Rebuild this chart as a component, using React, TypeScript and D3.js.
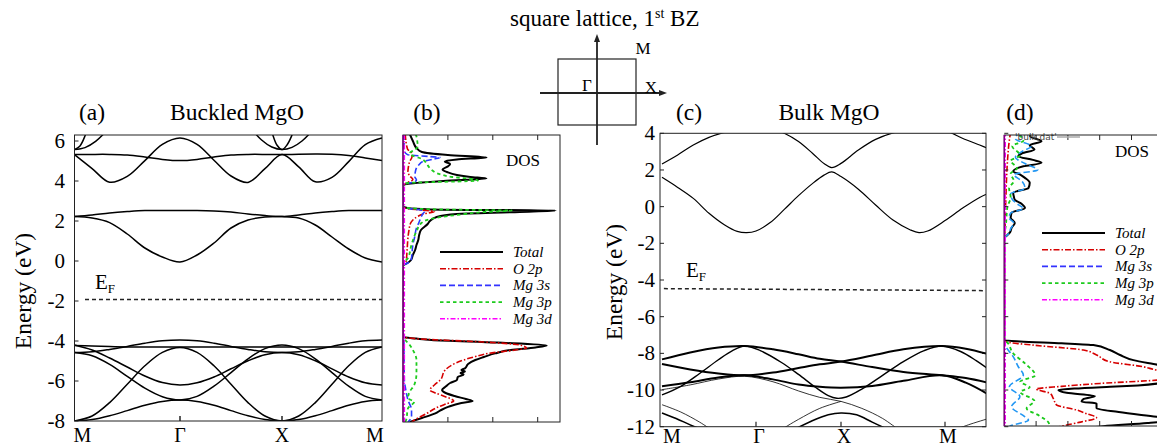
import * as d3 from 'd3';

type Pt = [number, number];

const FONT = '"Liberation Serif", "Times New Roman", serif';

// ---- high symmetry path ----
const symLabels = ['M', 'Γ', 'X', 'M'];
const symK = [0, 1, 2, 3];
const yTicksA = [6, 4, 2, 0, -2, -4, -6, -8];
const yTicksC = [4, 2, 0, -2, -4, -6, -8, -10, -12];

// ---- panel (a) Buckled MgO bands, sampled on kA ----
const kA = [0, 0.167, 0.333, 0.5, 0.667, 0.833, 1, 1.167, 1.333, 1.5, 1.667, 1.833, 2, 2.167, 2.333, 2.5, 2.667, 2.833, 3];
const bandA1 = [2.22, 2.15, 1.92, 1.35, 0.65, 0.2, -0.05, 0.3, 0.9, 1.65, 2.05, 2.2, 2.22, 2.15, 1.8, 1.2, 0.6, 0.15, -0.05];
const bandA2 = [2.22, 2.3, 2.4, 2.47, 2.52, 2.52, 2.52, 2.52, 2.5, 2.45, 2.35, 2.27, 2.22, 2.3, 2.4, 2.47, 2.52, 2.52, 2.52];
const bandA3 = [5.32, 5.33, 5.33, 5.3, 5.2, 5.08, 5.02, 5.08, 5.2, 5.3, 5.33, 5.33, 5.32, 5.34, 5.35, 5.34, 5.28, 5.15, 5.02];
const bandA4 = [5.32, 4.62, 3.94, 4.23, 5.02, 5.83, 6.15, 5.83, 5.04, 4.25, 3.93, 4.62, 5.32, 4.71, 3.96, 4.18, 4.97, 5.82, 6.15];
const bandA5 = [-4.58, -4.54, -4.42, -4.27, -4.11, -3.99, -3.95, -3.99, -4.11, -4.27, -4.42, -4.54, -4.58, -4.54, -4.42, -4.27, -4.11, -3.99, -3.95];
const bandA6 = [-4.22, -4.25, -4.28, -4.3, -4.3, -4.3, -4.3, -4.3, -4.3, -4.3, -4.3, -4.3, -4.3, -4.3, -4.3, -4.3, -4.3, -4.3, -4.3];
const bandA7 = [-8, -7.75, -7.08, -6.16, -5.24, -4.57, -4.32, -4.57, -5.24, -6.16, -7.08, -7.75, -8, -7.75, -7.08, -6.16, -5.24, -4.57, -4.3];
const bandA8 = [-4.2, -4.45, -4.85, -5.3, -5.75, -6.08, -6.2, -6.09, -5.8, -5.39, -4.99, -4.69, -4.58, -4.69, -4.99, -5.39, -5.8, -6.09, -6.2];
const bandA9 = [-4.58, -4.74, -5.17, -5.77, -6.36, -6.79, -6.95, -6.77, -6.26, -5.58, -4.89, -4.38, -4.2, -4.38, -4.89, -5.58, -6.26, -6.77, -6.95];
const bandA10 = [-8, -7.93, -7.74, -7.48, -7.21, -7.02, -6.95, -7.02, -7.21, -7.48, -7.74, -7.93, -8, -7.93, -7.74, -7.48, -7.21, -7.02, -6.95];
// short bands near the top edge, [k, E]
const bandA11: Pt[] = [[0, 5.57], [0.05, 5.74], [0.1, 6.26], [0.15, 7.1]];
const bandA12: Pt[] = [[0, 5.57], [0.1, 5.67], [0.2, 5.98], [0.3, 6.49]];
const bandA13: Pt[] = [[1.85, 7.2], [1.9, 6.45], [1.95, 5.8], [2, 5.57], [2.05, 5.8], [2.1, 6.3], [2.15, 7.0]];
const bandA14: Pt[] = [[1.7, 6.6], [1.8, 6.05], [1.9, 5.7], [2, 5.57], [2.1, 5.68], [2.2, 6.0], [2.3, 6.5]];
const efA = -1.93;

// ---- panel (c) Bulk MgO bands, [k, E] ----
const bandC1: Pt[] = [[0, 1.6], [0.167, 1.05], [0.333, 0.45], [0.5, -0.36], [0.667, -1.0], [0.8, -1.35], [0.9, -1.42], [1, -1.33], [1.167, -0.87], [1.333, -0.15], [1.5, 0.6], [1.667, 1.27], [1.8, 1.72], [1.89, 1.9], [2, 1.64], [2.167, 0.95], [2.333, 0.09], [2.5, -0.73], [2.667, -1.27], [2.75, -1.42], [2.833, -1.33], [3, -0.76], [3.167, -0.09], [3.333, 0.5], [3.45, 0.8]];
const bandC2: Pt[] = [[0, 2.33], [0.167, 2.82], [0.333, 3.36], [0.5, 3.78], [0.667, 4.05], [0.85, 4.3], [1, 4.35], [1.15, 4.3], [1.333, 4.0], [1.5, 3.55], [1.667, 2.9], [1.8, 2.35], [1.89, 2.13], [2, 2.36], [2.167, 3.09], [2.333, 3.67], [2.5, 4.02], [2.75, 4.3], [3, 4.15], [3.167, 3.73], [3.333, 3.36], [3.45, 3.1]];
const bandC3: Pt[] = [[0, -8.33], [0.3, -7.95], [0.6, -7.68], [0.88, -7.6], [1.2, -7.78], [1.5, -8.05], [1.75, -8.3], [2, -8.45], [2.3, -8.75], [2.6, -9.02], [2.97, -9.2], [3.2, -9.35], [3.45, -9.65]];
const bandC4: Pt[] = [[0, -8.58], [0.3, -8.88], [0.6, -9.1], [0.88, -9.2], [1.2, -9.05], [1.5, -8.8], [1.75, -8.6], [2, -8.45], [2.3, -8.12], [2.6, -7.78], [2.97, -7.6], [3.2, -7.75], [3.45, -8.1]];
const bandC5: Pt[] = [[0, -9.8], [0.3, -9.58], [0.6, -9.32], [0.88, -9.2], [1.2, -9.42], [1.5, -9.7], [1.75, -9.82], [2, -9.87], [2.3, -9.78], [2.6, -9.5], [2.97, -9.2], [3.2, -9.6], [3.45, -10.35]];
const bandC6: Pt[] = [[0, -10.27], [0.2, -9.8], [0.4, -9.1], [0.6, -8.35], [0.75, -7.85], [0.88, -7.6], [1.05, -7.85], [1.3, -8.5], [1.5, -9.15], [1.7, -9.85], [1.85, -10.3], [1.95, -10.45], [2.05, -10.38], [2.2, -9.95], [2.4, -9.2], [2.6, -8.45], [2.8, -7.85], [2.97, -7.6], [3.15, -7.9], [3.3, -8.4], [3.45, -9.0]];
const bandC7: Pt[] = [[0, -9.98], [0.3, -9.72], [0.6, -9.4], [0.88, -9.25], [1.2, -9.55], [1.5, -10.05], [1.75, -10.4], [2, -10.62], [2.2, -11.0], [2.4, -11.55], [2.55, -12.15]];
const bandC8: Pt[] = [[1.3, -12.15], [1.5, -11.6], [1.75, -11.0], [2, -10.62]];
const bandC9: Pt[] = [[1.45, -12.15], [1.65, -11.7], [1.85, -11.35], [2, -11.25], [2.15, -11.35], [2.3, -11.75], [2.45, -12.15]];
const bandC10: Pt[] = [[0, -10.8], [0.2, -11.2], [0.4, -11.75], [0.52, -12.15]];
const bandC11: Pt[] = [[0, -11.25], [0.15, -11.55], [0.3, -11.9], [0.42, -12.15]];
const bandC12: Pt[] = [[3.1, -12.15], [3.25, -11.85], [3.45, -11.5]];
const efC: Pt[] = [[0.02, -4.47], [3.37, -4.58]];

// ---- DOS, [E, states] ----
const dosTotalB: Pt[] = [[6.35, 0.15], [6.0, 0.22], [5.65, 0.3], [5.45, 0.42], [5.3, 1.0], [5.18, 1.86], [5.08, 1.2], [4.98, 0.93], [4.85, 1.05], [4.73, 1.0], [4.57, 0.88], [4.45, 0.98], [4.3, 1.2], [4.2, 1.5], [4.12, 1.86], [4.0, 0.9], [3.85, 0.08], [3.78, 0], [2.72, 0], [2.65, 0.1], [2.58, 0.6], [2.52, 3.4], [2.45, 2.6], [2.35, 1.2], [2.2, 0.75], [2.0, 0.6], [1.85, 0.55], [1.55, 0.4], [1.3, 0.36], [1.05, 0.34], [0.8, 0.3], [0.55, 0.27], [0.3, 0.22], [0.05, 0.18], [-0.15, 0.06], [-0.22, 0], [-3.8, 0], [-3.88, 0.3], [-3.95, 0.63], [-4.08, 2.1], [-4.22, 3.2], [-4.32, 2.95], [-4.45, 2.4], [-4.62, 2.05], [-4.8, 1.8], [-4.95, 1.61], [-5.15, 1.45], [-5.37, 1.38], [-5.45, 1.3], [-5.52, 1.38], [-5.6, 1.28], [-5.68, 1.35], [-5.8, 1.22], [-5.95, 1.2], [-6.1, 1.05], [-6.28, 0.95], [-6.45, 0.87], [-6.6, 0.95], [-6.75, 1.15], [-6.9, 1.4], [-7.0, 1.55], [-7.1, 1.3], [-7.28, 1.02], [-7.45, 0.85], [-7.62, 0.72], [-7.85, 0.42], [-8.05, 0.15]];
const dosO2pB: Pt[] = [[6.35, 0.05], [5.6, 0.1], [5.4, 0.19], [5.2, 0.2], [4.98, 0.15], [4.7, 0.12], [4.48, 0.11], [4.25, 0.15], [4.07, 0.22], [3.9, 0.08], [3.8, 0], [2.7, 0], [2.62, 0.1], [2.55, 0.4], [2.48, 0.7], [2.35, 0.45], [2.23, 0.33], [2.05, 0.22], [1.9, 0.17], [1.5, 0.13], [1.15, 0.11], [0.5, 0.09], [0, 0.07], [-0.2, 0], [-3.8, 0], [-3.9, 0.4], [-4.05, 1.8], [-4.2, 2.6], [-4.35, 2.75], [-4.45, 2.5], [-4.62, 1.9], [-4.78, 1.61], [-4.95, 1.35], [-5.12, 1.16], [-5.45, 0.94], [-5.95, 0.83], [-6.2, 0.7], [-6.45, 0.6], [-6.6, 0.72], [-6.75, 0.9], [-7.0, 1.13], [-7.15, 0.95], [-7.28, 0.8], [-7.62, 0.53], [-7.95, 0.26], [-8.05, 0.2]];
const dosMg3sB: Pt[] = [[6.35, 0.02], [5.5, 0.03], [5.32, 0.1], [5.22, 0.6], [5.18, 0.82], [5.1, 0.7], [4.98, 0.45], [4.8, 0.35], [4.65, 0.3], [4.4, 0.27], [4.23, 0.26], [4.05, 0.3], [3.95, 0.25], [3.85, 0.04], [3.8, 0], [2.7, 0], [2.62, 0.15], [2.55, 0.4], [2.48, 0.48], [2.35, 0.44], [2.23, 0.41], [1.9, 0.35], [1.65, 0.3], [1.2, 0.26], [0.82, 0.22], [0.4, 0.2], [0.15, 0.19], [-0.1, 0.11], [-0.2, 0], [-3.8, 0], [-4.0, 0.02], [-6.0, 0.03], [-6.28, 0.05], [-6.95, 0.11], [-7.45, 0.19], [-7.78, 0.19], [-8.05, 0.11]];
const dosMg3pB: Pt[] = [[6.35, 0.28], [6.23, 0.3], [5.95, 0.32], [5.73, 0.33], [5.55, 0.25], [5.4, 0.15], [5.28, 0.2], [5.15, 0.37], [4.9, 0.52], [4.72, 0.57], [4.57, 0.63], [4.32, 0.85], [4.2, 1.1], [4.12, 1.45], [4.02, 1.67], [3.9, 0.11], [3.8, 0], [2.72, 0], [2.65, 0.11], [2.58, 0.8], [2.52, 2.42], [2.45, 1.8], [2.35, 1.38], [2.15, 0.71], [1.9, 0.41], [1.48, 0.3], [0.82, 0.19], [0.15, 0.11], [-0.18, 0], [-3.8, 0], [-3.95, 0.05], [-4.2, 0.15], [-4.45, 0.22], [-4.95, 0.3], [-5.62, 0.3], [-6.2, 0.25], [-6.53, 0.15], [-6.87, 0.11], [-7.03, 0.25], [-7.37, 0.11], [-7.95, 0.07], [-8.05, 0.05]];
const dosMg3dB: Pt[] = [[6.35, 0.03], [-8.05, 0.03]];

const dosTotalD: Pt[] = [[4.1, 0.9], [3.84, 0.81], [3.57, 1.17], [3.35, 0.8], [3.11, 0.95], [2.9, 0.55], [2.75, 0.44], [2.55, 0.9], [2.39, 1.17], [2.2, 0.6], [1.93, 0.28], [1.75, 0.5], [1.57, 0.65], [1.3, 0.8], [1.02, 0.76], [0.75, 0.28], [0.55, 0.3], [0.38, 0.33], [0.15, 0.55], [-0.07, 0.65], [-0.34, 0.23], [-0.6, 0.2], [-0.89, 0.33], [-1.16, 0.23], [-1.4, 0.18], [-1.62, 0.05], [-1.7, 0], [-7.28, 0], [-7.35, 0.5], [-7.45, 1.8], [-7.55, 2.8], [-7.82, 3.32], [-8.09, 3.64], [-8.37, 4.06], [-8.58, 4.69], [-8.8, 5.4], [-9.1, 6.0], [-9.4, 5.6], [-9.6, 5.0], [-9.75, 4.2], [-9.82, 3.33], [-9.92, 2.2], [-10.0, 1.7], [-10.15, 1.96], [-10.33, 2.85], [-10.51, 2.48], [-10.64, 2.43], [-10.73, 2.9], [-11.0, 2.9], [-11.2, 3.6], [-11.46, 4.79], [-11.6, 5.4], [-11.8, 4.5], [-11.97, 3.12], [-12.1, 2.5]];
const dosO2pD: Pt[] = [[4.1, 0.2], [3.5, 0.15], [2.5, 0.1], [1.5, 0.07], [0.5, 0.05], [-0.5, 0.03], [-1.6, 0.02], [-1.7, 0], [-7.28, 0], [-7.37, 0.05], [-7.55, 0.91], [-7.82, 2.49], [-8.09, 2.9], [-8.46, 3.32], [-8.73, 4.37], [-8.91, 4.79], [-9.1, 5.5], [-9.3, 5.5], [-9.46, 4.79], [-9.64, 3.01], [-9.8, 1.8], [-9.95, 1.0], [-10.18, 1.44], [-10.46, 1.54], [-10.82, 1.65], [-11.09, 2.28], [-11.3, 2.6], [-11.5, 2.9], [-11.75, 2.4], [-11.91, 1.96], [-12.1, 1.5]];
const dosMg3sD: Pt[] = [[4.1, 0.5], [3.7, 0.35], [3.3, 0.85], [3.0, 0.55], [2.7, 0.35], [2.35, 0.65], [2.0, 1.05], [1.75, 0.3], [1.4, 0.55], [1.0, 0.65], [0.7, 0.2], [0.4, 0.25], [0.1, 0.45], [-0.1, 0.6], [-0.35, 0.2], [-0.6, 0.15], [-0.9, 0.3], [-1.2, 0.2], [-1.45, 0.15], [-1.65, 0.03], [-1.7, 0], [-7.28, 0], [-7.63, 0.05], [-8.18, 0.28], [-8.73, 0.44], [-9.18, 0.6], [-9.82, 0.16], [-10.36, 0.49], [-10.91, 0.23], [-11.46, 0.65], [-11.64, 0.76], [-11.97, 0.18], [-12.1, 0.1]];
const dosMg3pD: Pt[] = [[4.1, 0.3], [3.6, 0.6], [3.3, 0.25], [2.8, 0.5], [2.5, 0.2], [2.1, 0.4], [1.8, 0.2], [1.4, 0.3], [1.0, 0.15], [0.5, 0.2], [0.0, 0.1], [-1.0, 0.05], [-1.65, 0], [-7.28, 0], [-7.37, 0.07], [-8.0, 0.28], [-8.55, 0.65], [-9.2, 0.97], [-9.55, 0.5], [-9.85, 0.8], [-10.1, 0.5], [-10.6, 0.95], [-11.0, 0.7], [-11.4, 1.1], [-11.8, 1.4], [-12.1, 1.44]];
const dosMg3dD: Pt[] = [[4.1, 0.03], [-12.1, 0.03]];

const legendLabels = ['Total', 'O 2p', 'Mg 3s', 'Mg 3p', 'Mg 3d'];
const dosTicksB = [1, 2, 3];
const dosTicksD = [1, 2, 3, 4];

const seriesStyle = [
  { color: '#000000', width: 2, dash: '' },
  { color: '#d60000', width: 1.6, dash: '6,2,1.5,2' },
  { color: '#2a3cff', width: 1.6, dash: '6,3' },
  { color: '#1ecb1e', width: 1.8, dash: '3.5,3' },
  { color: '#ff00ff', width: 1.5, dash: '5,2,1.5,2' },
];

const zip = (ks: number[], es: number[]): Pt[] => ks.map((k, i) => [k, es[i]]);

function Legend({ x0, y0 }: { x0: number; y0: number }) {
  return (
    <g>
      {legendLabels.map((lab, i) => {
        const s = seriesStyle[i];
        const y = y0 + i * 16.7;
        return (
          <g key={lab}>
            <line x1={x0} x2={x0 + 63} y1={y} y2={y} stroke={i === 2 ? '#3333ff' : s.color} strokeWidth={s.width} strokeDasharray={s.dash} />
            <text x={x0 + 73} y={y + 5} fontSize={15} fontStyle="italic" fontFamily={FONT}>{lab}</text>
          </g>
        );
      })}
    </g>
  );
}

export default function App() {
  // scales
  const xA = d3.scaleLinear().domain(symK).range([74.5, 180, 282, 382]);
  const yA = d3.scaleLinear().domain([-8, 6]).range([421, 141]);
  const xC = d3.scaleLinear().domain(symK).range([662, 756, 841, 945]);
  const yC = d3.scaleLinear().domain([-12, 4]).range([426.7, 133.3]);
  const xB = d3.scaleLinear().domain([0, 1]).range([403, 447.9]);
  const xD = d3.scaleLinear().domain([0, 1]).range([1004.3, 1036.1]);

  const boxA = { x0: 74.5, x1: 382, y0: yA(6.3), y1: 421 };
  const boxB = { x0: 403, x1: 560, y0: 135, y1: 422 };
  const boxC = { x0: 660, x1: 986, y0: 133.3, y1: 426.7 };
  const boxD = { x0: 1004.3, x1: 1175, y0: 135, y1: 426 };

  const curve = d3.curveCatmullRom.alpha(0.5);
  const lineA = d3.line<Pt>().x((d) => xA(d[0])).y((d) => yA(d[1])).curve(curve);
  const lineC = d3.line<Pt>().x((d) => xC(d[0])).y((d) => yC(d[1])).curve(curve);
  const lineB = d3.line<Pt>().x((d) => xB(d[1])).y((d) => yA(d[0])).curve(d3.curveMonotoneY);
  const lineD = d3.line<Pt>().x((d) => xD(d[1])).y((d) => yC(d[0])).curve(d3.curveMonotoneY);

  const bandsA: Pt[][] = [
    ...[bandA1, bandA2, bandA3, bandA4, bandA5, bandA6, bandA7, bandA8, bandA9, bandA10].map((b) => zip(kA, b)),
    bandA11, bandA12, bandA13, bandA14,
  ];
  const bandsC: { pts: Pt[]; w: number }[] = [
    { pts: bandC1, w: 1.2 }, { pts: bandC2, w: 1.2 },
    { pts: bandC3, w: 2 }, { pts: bandC4, w: 2 }, { pts: bandC5, w: 2 },
    { pts: bandC6, w: 1.4 },
    { pts: bandC7, w: 0.8 }, { pts: bandC8, w: 0.8 }, { pts: bandC9, w: 1.6 },
    { pts: bandC10, w: 0.8 }, { pts: bandC11, w: 1.6 }, { pts: bandC12, w: 0.8 },
  ];
  const dosB = [dosTotalB, dosO2pB, dosMg3sB, dosMg3pB, dosMg3dB];
  const dosD = [dosTotalD, dosO2pD, dosMg3sD, dosMg3pD, dosMg3dD];
  const colorsD = ['#000000', '#d60000', '#2196f3', '#19c919', '#ff00ff'];

  const rect = (b: { x0: number; x1: number; y0: number; y1: number }) => ({ x: b.x0, y: b.y0, width: b.x1 - b.x0, height: b.y1 - b.y0 });

  return (
    <svg width={1157} height={448} style={{ position: 'absolute', left: 0, top: 0, background: '#fff' }} fontFamily={FONT}>
      <defs>
        <clipPath id="clipA"><rect {...rect(boxA)} /></clipPath>
        <clipPath id="clipB"><rect {...rect(boxB)} /></clipPath>
        <clipPath id="clipC"><rect {...rect(boxC)} /></clipPath>
        <clipPath id="clipD"><rect {...rect(boxD)} /></clipPath>
      </defs>

      {/* ---------- Brillouin zone sketch ---------- */}
      <g>
        <text x={510} y={26} fontSize={23}>
          square lattice, 1<tspan dy={-8} fontSize={14}>st</tspan><tspan dy={8}> BZ</tspan>
        </text>
        <rect x={558} y={59} width={78} height={66} fill="none" stroke="#222" strokeWidth={1.2} />
        <line x1={540} x2={662} y1={93} y2={93} stroke="#222" strokeWidth={1.8} />
        <path d="M667,93 L659,90 L659,96 Z" fill="#222" />
        <line x1={597} x2={597} y1={40} y2={145} stroke="#222" strokeWidth={1.8} />
        <path d="M597,34 L594,42 L600,42 Z" fill="#222" />
        <text x={643} y={54} fontSize={17} textAnchor="middle">M</text>
        <text x={587} y={91} fontSize={17} textAnchor="middle">Γ</text>
        <text x={651} y={93} fontSize={17} textAnchor="middle">X</text>
      </g>

      {/* ---------- panel (a) ---------- */}
      <g>
        <text x={92} y={120} fontSize={23.5} textAnchor="middle">(a)</text>
        <text x={237} y={120} fontSize={23.5} textAnchor="middle">Buckled MgO</text>
        <text transform="translate(23,291) rotate(-90)" fontSize={23.5} textAnchor="middle" dominantBaseline="central">Energy (eV)</text>
        {yTicksA.map((t) => (
          <g key={t}>
            <text x={65} y={yA(t)} fontSize={21} textAnchor="end" dominantBaseline="central">{t}</text>
            <line x1={boxA.x0} x2={boxA.x0 + 4} y1={yA(t)} y2={yA(t)} stroke="#222" />
          </g>
        ))}
        {symK.map((k, i) => (
          <text key={i} x={Math.min(Math.max(xA(k), boxA.x0 + 8), boxA.x1 - 7)} y={442} fontSize={20} textAnchor="middle">{symLabels[i]}</text>
        ))}
        {[1, 2].map((k) => (
          <line key={k} x1={xA(k)} x2={xA(k)} y1={boxA.y1} y2={boxA.y1 - 5} stroke="#222" strokeWidth={1.5} />
        ))}
        <g clipPath="url(#clipA)">
          {bandsA.map((b, i) => (
            <path key={i} d={lineA(b) ?? ''} fill="none" stroke="#000" strokeWidth={1.5} />
          ))}
        </g>
        <line x1={85} x2={boxA.x1} y1={yA(efA)} y2={yA(efA)} stroke="#222" strokeWidth={1.5} strokeDasharray="4,3" />
        <text x={95} y={289} fontSize={21}>E<tspan dy={4} fontSize={13}>F</tspan></text>
        <rect {...rect(boxA)} fill="none" stroke="#222" strokeWidth={1} />
      </g>

      {/* ---------- panel (b) DOS ---------- */}
      <g>
        <text x={427} y={120} fontSize={23.5} textAnchor="middle">(b)</text>
        <g clipPath="url(#clipB)">
          {dosB.map((s, i) => (
            <path key={i} d={lineB(s) ?? ''} fill="none" stroke={seriesStyle[i].color} strokeWidth={seriesStyle[i].width} strokeDasharray={seriesStyle[i].dash} />
          ))}
        </g>
        {dosTicksB.map((t) => (
          <g key={t}>
            <line x1={xB(t)} x2={xB(t)} y1={boxB.y0} y2={boxB.y0 + 5} stroke="#222" />
            <line x1={xB(t)} x2={xB(t)} y1={boxB.y1} y2={boxB.y1 - 5} stroke="#222" />
          </g>
        ))}
        <text x={506} y={166} fontSize={17}>DOS</text>
        <Legend x0={440} y0={252} />
        <rect {...rect(boxB)} fill="none" stroke="#222" strokeWidth={1} />
        <line x1={boxB.x0} x2={boxB.x0} y1={boxB.y0} y2={boxB.y1} stroke="#800080" strokeWidth={1.5} />
      </g>

      {/* ---------- panel (c) ---------- */}
      <g>
        <text x={689} y={120} fontSize={23.5} textAnchor="middle">(c)</text>
        <text x={829} y={120} fontSize={23.5} textAnchor="middle">Bulk MgO</text>
        <text transform="translate(614,282) rotate(-90)" fontSize={23.5} textAnchor="middle" dominantBaseline="central">Energy (eV)</text>
        {yTicksC.map((t) => (
          <g key={t}>
            <text x={655} y={yC(t)} fontSize={21} textAnchor="end" dominantBaseline="central">{t}</text>
            <line x1={boxC.x0} x2={boxC.x0 + 4} y1={yC(t)} y2={yC(t)} stroke="#222" />
            <line x1={boxC.x1} x2={boxC.x1 - 4} y1={yC(t)} y2={yC(t)} stroke="#222" />
          </g>
        ))}
        {symK.map((k, i) => (
          <text key={i} x={Math.max(xC(k) + 3, boxC.x0 + 12)} y={443} fontSize={20} textAnchor="middle">{symLabels[i]}</text>
        ))}
        {[1, 2, 3].map((k) => (
          <line key={k} x1={xC(k)} x2={xC(k)} y1={boxC.y1} y2={boxC.y1 - 5} stroke="#222" strokeWidth={1.2} />
        ))}
        <g clipPath="url(#clipC)">
          {bandsC.map((b, i) => (
            <path key={i} d={lineC(b.pts) ?? ''} fill="none" stroke="#000" strokeWidth={b.w} />
          ))}
        </g>
        <line x1={xC(efC[0][0])} x2={xC(efC[1][0])} y1={yC(efC[0][1])} y2={yC(efC[1][1])} stroke="#222" strokeWidth={1.5} strokeDasharray="4,3" />
        <text x={686} y={277} fontSize={21}>E<tspan dy={4} fontSize={13}>F</tspan></text>
        <rect {...rect(boxC)} fill="none" stroke="#222" strokeWidth={1} />
      </g>

      {/* ---------- panel (d) DOS ---------- */}
      <g>
        <text x={1020} y={120} fontSize={23.5} textAnchor="middle">(d)</text>
        <g clipPath="url(#clipD)">
          {dosD.map((s, i) => (
            <path key={i} d={lineD(s) ?? ''} fill="none" stroke={colorsD[i]} strokeWidth={seriesStyle[i].width} strokeDasharray={seriesStyle[i].dash} />
          ))}
        </g>
        {dosTicksD.map((t) => (
          <g key={t}>
            <line x1={xD(t)} x2={xD(t)} y1={boxD.y0} y2={boxD.y0 + 5} stroke="#222" />
            <line x1={xD(t)} x2={xD(t)} y1={boxD.y1} y2={boxD.y1 - 5} stroke="#222" />
          </g>
        ))}
        {yTicksC.map((t) => (
          <line key={t} x1={boxD.x0} x2={boxD.x0 + 4} y1={yC(t)} y2={yC(t)} stroke="#222" />
        ))}
        <text x={1015} y={140} fontSize={9} fontFamily="DejaVu Sans, sans-serif" fill="#444">'bulk.dat'</text>
        <line x1={1057} x2={1080} y1={137} y2={137} stroke="#aaa" strokeWidth={1.5} />
        <text x={1115} y={157} fontSize={17}>DOS</text>
        <Legend x0={1042} y0={233} />
        <rect {...rect(boxD)} fill="none" stroke="#222" strokeWidth={1} />
        <line x1={boxD.x0} x2={boxD.x0} y1={boxD.y0} y2={boxD.y1} stroke="#800080" strokeWidth={1.5} />
      </g>
    </svg>
  );
}
